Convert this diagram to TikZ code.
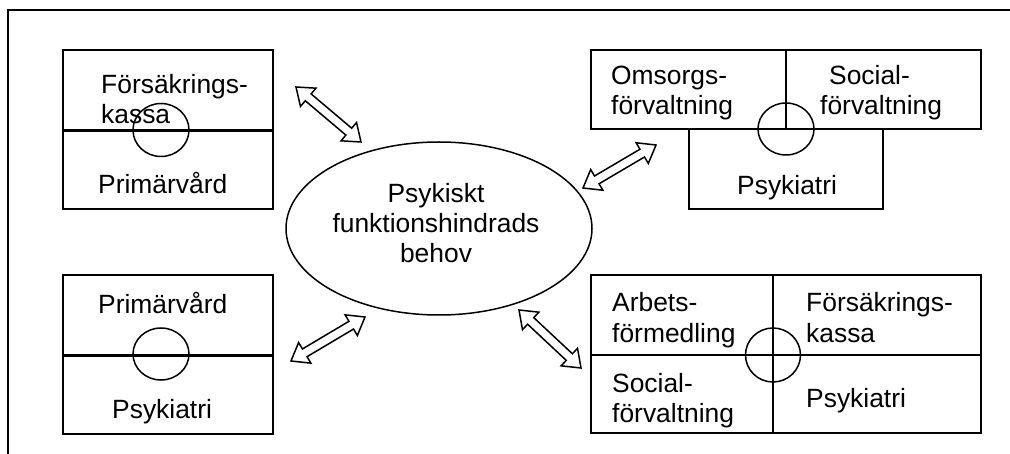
\documentclass[tikz,border=0pt]{standalone}
\usepackage{fontspec}
\setmainfont{Liberation Sans}
\usetikzlibrary{calc,shapes.geometric}
\tikzset{
  cell/.style={draw=black, line width=1.8pt, inner sep=0pt},
  midline/.style={line width=2.6pt},
  ring/.style={draw=black, line width=1.5pt, ellipse, inner sep=0pt},
  txt/.style={inner sep=0pt, anchor=base west, font=\fontsize{26.4}{30}\selectfont},
  ctxt/.style={inner sep=0pt, anchor=base, font=\fontsize{26.4}{30}\selectfont},
  frame/.style={line width=1.8pt},
  arr/.style={draw=black, line width=1.5pt, fill=white, line join=miter},
}
\newcommand{\dblarr}[2]{%
  \coordinate (#1h) at ($(#1)!16pt!(#2)$);
  \coordinate (#1t) at ($(#2)!16pt!(#1)$);
  \draw[arr] (#1) -- ($(#1h)!12pt!90:(#2)$) -- ($(#1h)!4.5pt!90:(#2)$)
    -- ($(#1t)!4.5pt!-90:(#1)$) -- ($(#1t)!12pt!-90:(#1)$) -- (#2)
    -- ($(#1t)!12pt!90:(#1)$) -- ($(#1t)!4.5pt!90:(#1)$)
    -- ($(#1h)!4.5pt!-90:(#2)$) -- ($(#1h)!12pt!-90:(#2)$) -- cycle;
}
\begin{document}
\begin{tikzpicture}[x=1pt, y=-1pt]
\useasboundingbox (0,0) rectangle (1010,454);
% outer frame (only top and left edges visible)
\coordinate (fr1) at (1012,10);
\coordinate (fr2) at (8,10);
\coordinate (fr3) at (8,456);
\draw[frame] (fr1) -- (fr2) -- (fr3);

% ---------- top left ----------
\node[cell, minimum width=210pt, minimum height=80pt] (tl1) at (168,90) {};
\node[cell, minimum width=210pt, minimum height=79pt] (tl2) at (168,169.5) {};
\draw[midline] (tl1.south west) -- (tl1.south east);
\node[ring, minimum width=56pt, minimum height=53pt] (tlc) at (161,130) {};
\node[txt] (tlt1) at (101,94) {Försäkrings-};
\node[txt] (tlt2) at (101,124) {kassa};
\node[txt] (tlt3) at (98,194) {Primärvård};

% ---------- bottom left ----------
\node[cell, minimum width=210pt, minimum height=80pt] (bl1) at (168,315) {};
\node[cell, minimum width=210pt, minimum height=79pt] (bl2) at (168,394.5) {};
\draw[midline] (bl1.south west) -- (bl1.south east);
\node[ring, minimum width=56pt, minimum height=52pt] (blc) at (161,354) {};
\node[txt] (blt1) at (98,314) {Primärvård};
\node[txt] (blt2) at (112,419) {Psykiatri};

% ---------- top right ----------
\node[cell, minimum width=195pt, minimum height=79pt] (tr1) at (688.5,89.5) {};
\node[cell, minimum width=195pt, minimum height=79pt] (tr2) at (883.5,89.5) {};
\node[cell, minimum width=194pt, minimum height=80pt] (tr3) at (786,169) {};
\node[ring, minimum width=56pt, minimum height=52pt] (trc) at (786,129) {};
\node[txt] (trt1) at (611,85) {Omsorgs-};
\node[txt] (trt2) at (611,115) {förvaltning};
\node[txt] (trt3) at (829,85) {Social-};
\node[txt] (trt4) at (820,115) {förvaltning};
\node[txt] (trt5) at (737,195) {Psykiatri};

% ---------- bottom right ----------
\node[cell, minimum width=182pt, minimum height=80pt] (br1) at (682,315) {};
\node[cell, minimum width=208pt, minimum height=80pt] (br2) at (877,315) {};
\node[cell, minimum width=182pt, minimum height=78pt] (br3) at (682,394) {};
\node[cell, minimum width=208pt, minimum height=78pt] (br4) at (877,394) {};
\node[ring, minimum width=55pt, minimum height=54pt] (brc) at (773,355) {};
\node[txt] (brt1) at (612,312) {Arbets-};
\node[txt] (brt2) at (612,343) {förmedling};
\node[txt] (brt3) at (806,312) {Försäkrings-};
\node[txt] (brt4) at (806,343) {kassa};
\node[txt] (brt5) at (612,393) {Social-};
\node[txt] (brt6) at (612,423) {förvaltning};
\node[txt] (brt7) at (806,407) {Psykiatri};

% ---------- centre ellipse ----------
\node[ring, minimum width=306pt, minimum height=173pt] (mid) at (439,228.5) {};
\node[ctxt] (mt1) at (436,203) {Psykiskt};
\node[ctxt] (mt2) at (436,233) {funktionshindrads};
\node[ctxt] (mt3) at (436,263) {behov};

% ---------- double arrows ----------
\coordinate (a1s) at (296,87);  \coordinate (a1e) at (361,142);
\coordinate (a2s) at (583,188); \coordinate (a2e) at (656,145);
\coordinate (a3s) at (291,361); \coordinate (a3e) at (365,317);
\coordinate (a4s) at (519,310); \coordinate (a4e) at (581,368);
\dblarr{a1s}{a1e}
\dblarr{a2s}{a2e}
\dblarr{a3s}{a3e}
\dblarr{a4s}{a4e}
\end{tikzpicture}
\end{document}
